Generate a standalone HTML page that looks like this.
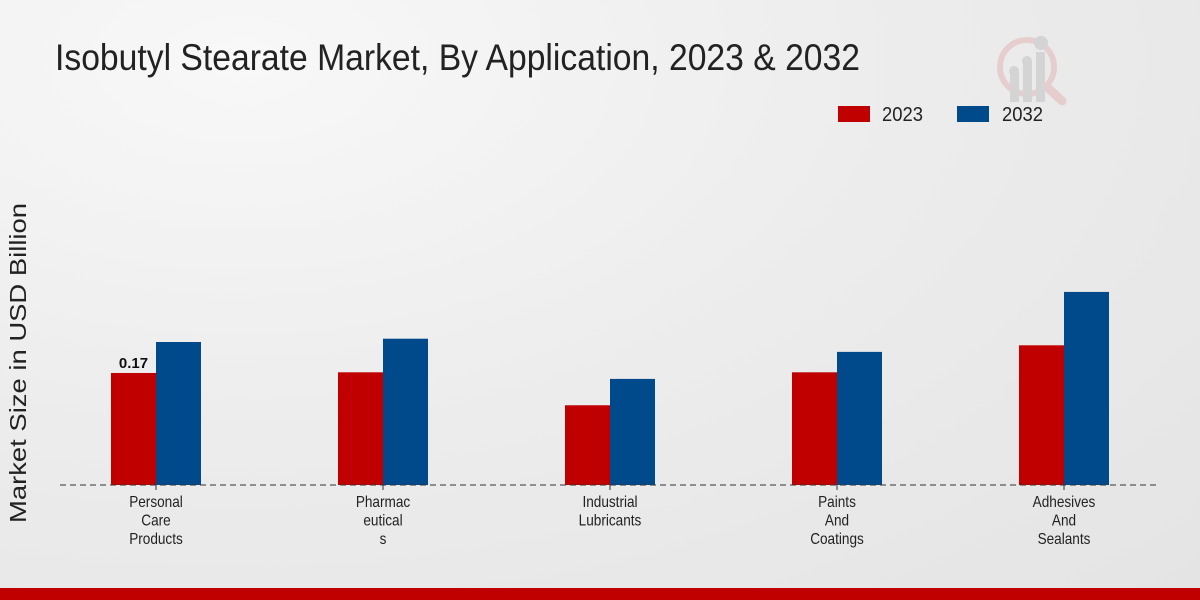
<!DOCTYPE html>
<html><head><meta charset="utf-8"><style>
html,body{margin:0;padding:0;width:1200px;height:600px;overflow:hidden}
body{background:radial-gradient(ellipse at 20% 10%,#f8f8f8 0%,#ececec 50%,#e4e4e4 100%);font-family:"Liberation Sans",sans-serif}
</style></head><body>
<svg id="chart" width="1200" height="600" xmlns="http://www.w3.org/2000/svg" style="position:absolute;left:0;top:0">
<text x="55" y="70" font-size="37" fill="#222" textLength="805" lengthAdjust="spacingAndGlyphs">Isobutyl Stearate Market, By Application, 2023 &amp; 2032</text>
<g opacity="0.35">
<circle cx="1027" cy="67" r="27" fill="none" stroke="#d99" stroke-width="6"/>
<line x1="1047" y1="87" x2="1062" y2="101" stroke="#d99" stroke-width="9" stroke-linecap="round"/>
<rect x="1010" y="72" width="9" height="30" fill="#aaa"/><rect x="1023" y="62" width="9" height="40" fill="#aaa"/><rect x="1036" y="52" width="9" height="50" fill="#aaa"/>
<circle cx="1014" cy="71" r="5" fill="#aaa"/><circle cx="1027" cy="61" r="5" fill="#aaa"/><circle cx="1041" cy="43" r="7" fill="#aaa"/>
</g>
<g>
<rect x="838" y="106" width="32" height="16" fill="#c00000"/>
<text x="882" y="121" font-size="20" fill="#222" textLength="41" lengthAdjust="spacingAndGlyphs">2023</text>
<rect x="957" y="106" width="32" height="16" fill="#004a8c"/>
<text x="1002" y="121" font-size="20" fill="#222" textLength="41" lengthAdjust="spacingAndGlyphs">2032</text>
</g>
<text transform="translate(26,363) rotate(-90)" text-anchor="middle" font-size="23" fill="#222" textLength="320" lengthAdjust="spacingAndGlyphs">Market Size in USD Billion</text>
<g id="bars"></g>
<line x1="60" y1="485" x2="1160" y2="485" stroke="#333" stroke-width="1" stroke-dasharray="6,4"/>
<g id="labels"></g>
<rect x="0" y="588" width="1200" height="12" fill="#c00000"/>
</svg>
<script>
const categories=[["Personal","Care","Products"],["Pharmac","eutical","s"],["Industrial","Lubricants"],["Paints","And","Coatings"],["Adhesives","And","Sealants"]];
const values2023=[0.17,0.171,0.121,0.171,0.212];
const values2032=[0.217,0.222,0.161,0.202,0.293];
const valueLabels=["0.17","","","",""];
const NS="http://www.w3.org/2000/svg";
const baseY=485,scale=659,x0=156,step=227,bw=45;
const yPos=v=>baseY-v*scale;
const xCenter=i=>x0+i*step;
const bars=document.getElementById('bars'),labels=document.getElementById('labels');
function mk(t,a){const e=document.createElementNS(NS,t);for(const k in a)e.setAttribute(k,a[k]);return e;}
categories.forEach((c,i)=>{
  const cx=xCenter(i);
  const r1=mk('rect',{x:cx-bw,y:yPos(values2023[i]),width:bw,height:values2023[i]*scale,fill:'#c00000'});
  
  
  bars.appendChild(r1);
  const r2=mk('rect',{x:cx,y:yPos(values2032[i]),width:bw,height:values2032[i]*scale,fill:'#004a8c'});
  
  
  bars.appendChild(r2);
  if(valueLabels[i]){
    const t=mk('text',{x:cx-bw/2,y:yPos(values2023[i])-5,'text-anchor':'middle','font-size':'15','font-weight':'bold',fill:'#111'});
    t.textContent=valueLabels[i];
    
    
    bars.appendChild(t);
  }
  const tk=mk('line',{x1:cx,y1:485,x2:cx,y2:490,stroke:'#333','stroke-width':'1'});
  
  
  labels.appendChild(tk);
  c.forEach((line,j)=>{
    const t=mk('text',{transform:'translate('+cx+','+(507+j*18.5)+') scale(0.85,1)','text-anchor':'middle','font-size':'16',fill:'#222'});
    t.textContent=line;
    
    
    labels.appendChild(t);
  });
});
</script>
</body></html>
